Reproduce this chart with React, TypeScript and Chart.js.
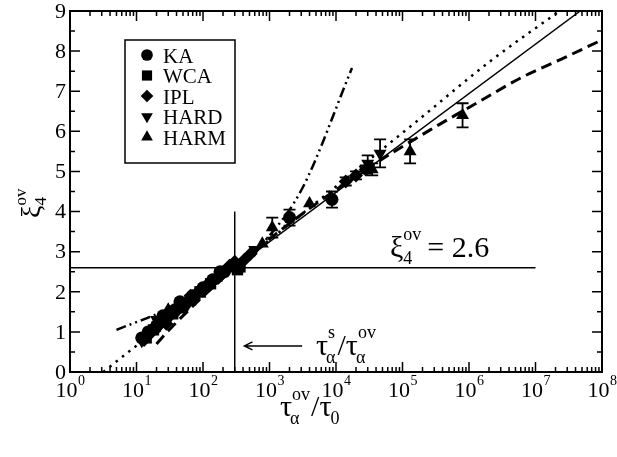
import React, { useEffect, useRef } from "react";
import { Chart, registerables } from "chart.js";
Chart.register(...registerables);

const FONT = '"Liberation Serif", "Times New Roman", Times, serif';

// ---- axis ticks ----
const xTickExps = [0, 1, 2, 3, 4, 5, 6, 7, 8];
const yTicks = [0, 1, 2, 3, 4, 5, 6, 7, 8, 9];

// ---- data series (tau_alpha^ov / tau_0 , xi_4^ov , error) ----
const kaTau = [12, 15, 20, 25, 28, 38, 45, 50, 70, 100, 140, 180, 210, 2000, 8700];
const kaXi = [0.85, 1.0, 1.15, 1.4, 1.35, 1.55, 1.75, 1.7, 1.9, 2.1, 2.3, 2.5, 2.5, 3.85, 4.3];
const kaErr = [0, 0, 0, 0, 0, 0, 0, 0, 0, 0, 0, 0, 0, 0.2, 0.2];

const wcaTau = [14, 18, 25, 35, 48, 65, 90, 130, 330, 360];
const wcaXi = [0.85, 1.05, 1.25, 1.45, 1.6, 1.8, 2.0, 2.2, 2.55, 2.62];
const wcaErr = [0, 0, 0, 0, 0, 0, 0, 0, 0, 0];

const iplTau = [13, 17, 23, 28, 32, 45, 60, 65, 85, 120, 170, 250, 300, 420, 520, 14000, 20000, 28000];
const iplXi = [0.8, 1.0, 1.2, 1.2, 1.4, 1.6, 1.75, 1.9, 2.0, 2.2, 2.35, 2.65, 2.75, 2.8, 2.95, 4.75, 4.9, 5.05];
const iplErr = [0, 0, 0, 0, 0, 0, 0, 0, 0, 0, 0, 0, 0, 0, 0, 0.1, 0.1, 0.1];

const hardTau = [12, 16, 20, 22, 30, 42, 55, 58, 80, 115, 380, 600, 30000, 46000];
const hardXi = [0.78, 0.95, 1.3, 1.15, 1.35, 1.55, 1.6, 1.75, 1.95, 2.15, 2.7, 3.05, 5.2, 5.45];
const hardErr = [0, 0, 0, 0, 0, 0, 0, 0, 0, 0, 0, 0, 0.2, 0.35];

const harmTau = [13, 19, 26, 30, 36, 52, 75, 90, 105, 160, 780, 1100, 4000, 35000, 130000, 800000];
const harmXi = [0.82, 1.1, 1.3, 1.55, 1.5, 1.7, 1.9, 1.95, 2.1, 2.35, 3.2, 3.6, 4.2, 5.05, 5.5, 6.4];
const harmErr = [0, 0, 0, 0, 0, 0, 0, 0, 0, 0, 0, 0.25, 0, 0.15, 0.3, 0.3];

// ---- fit curves ----
const solidTau = [10, 4.7e7];
const solidXi = [0.78, 9.0];

const dottedTau = [3.16, 300, 1.38e5, 2.09e6, 2.3e7];
const dottedXi = [0, 2.6, 6.15, 7.75, 9.0];

const dashedTau = [20, 33, 300, 3160, 31600, 2.57e5, 1.32e6, 6.46e6, 2.45e7, 1e8];
const dashedXi = [0.7, 1.1, 2.6, 3.95, 5.1, 6.03, 6.71, 7.36, 7.8, 8.28];

const dashDotTau = [5, 32, 300, 1000, 3160, 17400];
const dashDotXi = [1.05, 1.6, 2.6, 3.4, 4.6, 7.58];

// ---- reference lines ----
const hLineTau = [1, 1e7];
const hLineXi = [2.6, 2.6];
const vLineTau = [300, 300];
const vLineXi = [0, 4];

const labels = ["KA", "WCA", "IPL", "HARD", "HARM"];

type Series = {
  label: string;
  tau: number[];
  xi: number[];
  err: number[];
  style: string;
  radius: number;
  rotation: number;
};

const series: Series[] = [
  { label: labels[0], tau: kaTau, xi: kaXi, err: kaErr, style: "circle", radius: 6.5, rotation: 0 },
  { label: labels[1], tau: wcaTau, xi: wcaXi, err: wcaErr, style: "rect", radius: 8, rotation: 0 },
  { label: labels[2], tau: iplTau, xi: iplXi, err: iplErr, style: "rectRot", radius: 7, rotation: 0 },
  { label: labels[3], tau: hardTau, xi: hardXi, err: hardErr, style: "triangle", radius: 7.5, rotation: 180 },
  { label: labels[4], tau: harmTau, xi: harmXi, err: harmErr, style: "triangle", radius: 7.5, rotation: 0 },
];

const pts = (a: number[], b: number[]) => a.map((v, i) => ({ x: v, y: b[i] }));

function drawMarker(ctx: CanvasRenderingContext2D, style: string, r: number, rot: number, x: number, y: number) {
  ctx.beginPath();
  if (style === "circle") {
    ctx.arc(x, y, r, 0, Math.PI * 2);
  } else if (style === "rect") {
    const s = r * Math.SQRT1_2;
    ctx.rect(x - s, y - s, 2 * s, 2 * s);
  } else if (style === "rectRot") {
    ctx.moveTo(x, y - r);
    ctx.lineTo(x + r, y);
    ctx.lineTo(x, y + r);
    ctx.lineTo(x - r, y);
    ctx.closePath();
  } else {
    const sgn = rot === 180 ? -1 : 1;
    const h = r * 1.5;
    const w = r * Math.sqrt(3) / 2;
    ctx.moveTo(x, y - sgn * r);
    ctx.lineTo(x + w, y - sgn * (r - h));
    ctx.lineTo(x - w, y - sgn * (r - h));
    ctx.closePath();
  }
  ctx.fill();
}

const framePlugin = {
  id: "frame",
  afterDraw(chart: any) {
    const ctx: CanvasRenderingContext2D = chart.ctx;
    const { left, right, top, bottom } = chart.chartArea;
    const xs = chart.scales.x;
    const ys = chart.scales.y;
    ctx.save();
    ctx.strokeStyle = "#000";
    ctx.fillStyle = "#000";
    ctx.lineWidth = 2;
    ctx.strokeRect(left, top, right - left, bottom - top);
    ctx.lineWidth = 1.5;
    ctx.beginPath();
    for (const e of xTickExps) {
      const px = xs.getPixelForValue(Math.pow(10, e));
      ctx.moveTo(px, bottom); ctx.lineTo(px, bottom - 10);
      ctx.moveTo(px, top); ctx.lineTo(px, top + 10);
      if (e < 8) {
        for (let m = 2; m <= 9; m++) {
          const mx = xs.getPixelForValue(m * Math.pow(10, e));
          ctx.moveTo(mx, bottom); ctx.lineTo(mx, bottom - 5);
          ctx.moveTo(mx, top); ctx.lineTo(mx, top + 5);
        }
      }
    }
    for (const t of yTicks) {
      const py = ys.getPixelForValue(t);
      ctx.moveTo(left, py); ctx.lineTo(left + 10, py);
      ctx.moveTo(right, py); ctx.lineTo(right - 10, py);
      if (t < 9) {
        const my = ys.getPixelForValue(t + 0.5);
        ctx.moveTo(left, my); ctx.lineTo(left + 5, my);
        ctx.moveTo(right, my); ctx.lineTo(right - 5, my);
      }
    }
    ctx.stroke();

    ctx.font = `22px ${FONT}`;
    ctx.textAlign = "right";
    ctx.textBaseline = "middle";
    for (const t of yTicks) {
      ctx.fillText(String(t), left - 4, ys.getPixelForValue(t) + 1);
    }
    ctx.textBaseline = "alphabetic";
    ctx.textAlign = "left";
    for (const e of xTickExps) {
      const px = xs.getPixelForValue(Math.pow(10, e));
      ctx.font = `22px ${FONT}`;
      const w1 = ctx.measureText("10").width;
      ctx.font = `14px ${FONT}`;
      const w2 = ctx.measureText(String(e)).width;
      const x0 = px - (w1 + w2) / 2;
      ctx.font = `22px ${FONT}`;
      ctx.fillText("10", x0, 397);
      ctx.font = `14px ${FONT}`;
      ctx.fillText(String(e), x0 + w1 + 0.5, 385);
    }

    // x title
    let x = 280;
    const by = 416;
    ctx.font = `30px ${FONT}`;
    ctx.fillText("τ", x, by);
    x += ctx.measureText("τ").width;
    ctx.font = `18px ${FONT}`;
    ctx.fillText("α", x - 2, by + 8);
    ctx.fillText("ov", x, by - 16);
    x += Math.max(ctx.measureText("ov").width, ctx.measureText("α").width) + 1;
    ctx.font = `30px ${FONT}`;
    ctx.fillText("/", x, by);
    x += ctx.measureText("/").width;
    ctx.fillText("τ", x, by);
    x += ctx.measureText("τ").width;
    ctx.font = `18px ${FONT}`;
    ctx.fillText("0", x - 1, by + 8);

    // y title
    ctx.save();
    ctx.translate(40, 218);
    ctx.rotate(-Math.PI / 2);
    ctx.font = `28px ${FONT}`;
    ctx.fillText("ξ", 0, 0);
    const wx = ctx.measureText("ξ").width;
    ctx.font = `17px ${FONT}`;
    ctx.fillText("4", wx, 6);
    ctx.fillText("ov", wx, -14);
    ctx.restore();

    // xi_4^ov = 2.6
    {
      let ax = 390;
      const ay = 257;
      ctx.font = `30px ${FONT}`;
      ctx.fillText("ξ", ax, ay);
      ax += ctx.measureText("ξ").width;
      ctx.font = `18px ${FONT}`;
      ctx.fillText("4", ax, ay + 7);
      ctx.fillText("ov", ax, ay - 17);
      ax += ctx.measureText("ov").width + 6;
      ctx.font = `30px ${FONT}`;
      ctx.fillText("= 2.6", ax, ay);
    }
    // tau_alpha^s / tau_alpha^ov
    {
      let ax = 316;
      const ay = 355;
      ctx.font = `30px ${FONT}`;
      ctx.fillText("τ", ax, ay);
      ax += ctx.measureText("τ").width;
      ctx.font = `18px ${FONT}`;
      ctx.fillText("α", ax - 2, ay + 8);
      ctx.fillText("s", ax, ay - 17);
      ax += ctx.measureText("α").width;
      ctx.font = `30px ${FONT}`;
      ctx.fillText("/", ax, ay);
      ax += ctx.measureText("/").width;
      ctx.fillText("τ", ax, ay);
      ax += ctx.measureText("τ").width;
      ctx.font = `18px ${FONT}`;
      ctx.fillText("α", ax - 2, ay + 8);
      ctx.fillText("ov", ax, ay - 17);
    }
    // arrow
    {
      const ayp = ys.getPixelForValue(0.65);
      const x1 = xs.getPixelForValue(3100);
      const x2 = xs.getPixelForValue(420);
      ctx.lineWidth = 1.5;
      ctx.beginPath();
      ctx.moveTo(x1, ayp); ctx.lineTo(x2, ayp);
      ctx.moveTo(x2 + 8, ayp - 4); ctx.lineTo(x2, ayp); ctx.lineTo(x2 + 8, ayp + 4);
      ctx.stroke();
    }

    // legend
    {
      const bx = 125, bt = 40, bw = 110, bh = 123;
      ctx.lineWidth = 1.5;
      ctx.strokeRect(bx, bt, bw, bh);
      ctx.font = `21px ${FONT}`;
      ctx.textBaseline = "alphabetic";
      series.forEach((s, i) => {
        const cy = 55 + i * 20.5;
        drawMarker(ctx, s.style, s.radius * 0.9, s.rotation, 147, cy);
        ctx.fillText(s.label, 163, cy + 7.5);
      });
    }
    ctx.restore();
  },
};

const errPlugin = {
  id: "errbars",
  afterDatasetsDraw(chart: any) {
    const ctx: CanvasRenderingContext2D = chart.ctx;
    const xs = chart.scales.x;
    const ys = chart.scales.y;
    ctx.save();
    ctx.strokeStyle = "#000";
    ctx.lineWidth = 1.8;
    ctx.beginPath();
    for (const s of series) {
      s.tau.forEach((t, i) => {
        const e = s.err[i];
        if (!e) return;
        const px = xs.getPixelForValue(t);
        const y1 = ys.getPixelForValue(s.xi[i] + e);
        const y2 = ys.getPixelForValue(s.xi[i] - e);
        ctx.moveTo(px, y1); ctx.lineTo(px, y2);
        ctx.moveTo(px - 6, y1); ctx.lineTo(px + 6, y1);
        ctx.moveTo(px - 6, y2); ctx.lineTo(px + 6, y2);
      });
    }
    ctx.stroke();
    ctx.restore();
  },
};

export default function App() {
  const ref = useRef<HTMLCanvasElement | null>(null);
  useEffect(() => {
    if (!ref.current) return;
    const lineDs = (tau: number[], xi: number[], width: number, dash: number[], smooth = false) => ({
      type: "line" as const,
      data: pts(tau, xi),
      showLine: true,
      borderColor: "#000",
      backgroundColor: "#000",
      borderWidth: width,
      borderDash: dash,
      pointRadius: 0,
      cubicInterpolationMode: smooth ? ("monotone" as const) : ("default" as const),
      tension: 0,
      order: 2,
    });
    const datasets: any[] = [
      lineDs(hLineTau, hLineXi, 1.5, []),
      lineDs(vLineTau, vLineXi, 1.5, []),
      lineDs(solidTau, solidXi, 1.5, []),
      lineDs(dottedTau, dottedXi, 2.5, [2.5, 5.5], true),
      lineDs(dashedTau, dashedXi, 3, [11, 6], true),
      lineDs(dashDotTau, dashDotXi, 2.5, [10, 4, 2, 4, 2, 4], true),
      ...series.map((s) => ({
        type: "scatter" as const,
        label: s.label,
        data: pts(s.tau, s.xi),
        pointStyle: s.style,
        pointRadius: s.radius,
        pointRotation: s.rotation,
        backgroundColor: "#000",
        borderColor: "#000",
        borderWidth: 0,
        showLine: false,
        order: 1,
      })),
    ];
    const chart = new Chart(ref.current, {
      type: "scatter",
      data: { datasets },
      options: {
        animation: false,
        responsive: false,
        maintainAspectRatio: false,
        devicePixelRatio: 1,
        layout: { padding: { left: 70, right: 15, top: 11, bottom: 85 } },
        scales: {
          x: { type: "logarithmic", min: 1, max: 1e8, display: false },
          y: { type: "linear", min: 0, max: 9, display: false },
        },
        plugins: { legend: { display: false }, tooltip: { enabled: false } },
      },
      plugins: [errPlugin, framePlugin],
    } as any);
    return () => chart.destroy();
  }, []);
  return (
    <div style={{ position: "fixed", left: 0, top: 0, width: 617, height: 457, background: "#fff" }}>
      <canvas ref={ref} width={617} height={457} style={{ display: "block", width: 617, height: 457 }} />
    </div>
  );
}
